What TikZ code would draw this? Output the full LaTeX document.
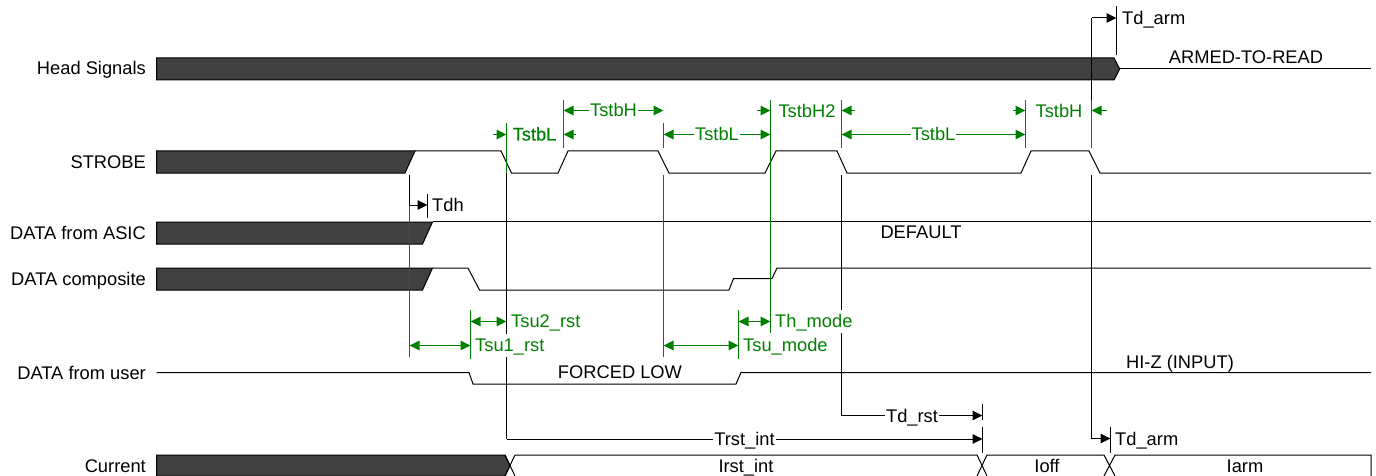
\documentclass[tikz,border=0pt]{standalone}
\usepackage{fontspec}
\setmainfont{Liberation Sans}
\newfontfamily\heavyfont[FakeBold=0.5]{Liberation Sans}
\usepackage{xcolor}
\usetikzlibrary{arrows.meta}
\definecolor{bardark}{HTML}{404040}
\definecolor{dimgreen}{HTML}{008000}

\begin{document}
\begin{tikzpicture}[
  x=1pt,y=-1pt,
  txt/.style={font=\fontsize{18.3}{20}\selectfont,inner xsep=1pt,inner ysep=0pt,
              text height=13pt,text depth=0pt},
  signame/.style={txt,anchor=east},
  dimlab/.style={txt,fill=white,inner ysep=5pt},
  sig/.style={line width=1pt,line join=miter},
  bar/.style={fill=bardark,draw=black,line width=1pt},
  dimline/.style={line width=1pt},
  dimg/.style={line width=1.4pt,draw=dimgreen,fill=dimgreen},
  one/.style={-{Triangle[length=10pt,width=9.5pt]}},
  both/.style={{Triangle[length=10pt,width=9.5pt]}-{Triangle[length=10pt,width=9.5pt]}}
]
\useasboundingbox (0,0) rectangle (1376,476);
% Signal names
\node[signame] (nhead) at (147,68.5) {Head Signals};
\node[signame] (nstrobe) at (147,161.5) {STROBE};
\node[signame] (nasic) at (147,232.5) {DATA from ASIC};
\node[signame] (ncomp) at (147,279) {DATA composite};
\node[signame] (nuser) at (147,372.5) {DATA from user};
\node[signame] (ncurr) at (147,466) {Current};
% Waveforms
\draw[bar] (156.5,58) -- (1114,58) -- (1119.7,69) -- (1114,80) -- (156.5,80) -- cycle;
\draw[sig] (1119.7,68.5) -- (1371,68.5);
\draw[bar] (156.5,151) -- (415,151) -- (405,173) -- (156.5,173) -- cycle;
\draw[sig] (415,151) -- (501,151) -- (511.5,173) -- (558,173) -- (568,151)
  -- (658,151) -- (669,173) -- (765,173) -- (776,151) -- (837,151) -- (847,173)
  -- (1021,173) -- (1031,151) -- (1089,151) -- (1100,173) -- (1371,173);
\draw[bar] (156.5,222) -- (432.5,222) -- (422.5,244) -- (156.5,244) -- cycle;
\draw[sig] (432.5,221.5) -- (1371,221.5);
\draw[bar] (156.5,268) -- (432.5,268) -- (422.5,290) -- (156.5,290) -- cycle;
\draw[sig] (432.5,268) -- (468,268) -- (479.5,290) -- (729,290) -- (733.5,278.5)
  -- (772,278.5) -- (777,268) -- (1371,268);
\draw[sig] (156.5,372.5) -- (469,372.5) -- (473,384) -- (736,384) -- (741,372.5) -- (1371,372.5);
\draw[bar] (156.5,455) -- (505,455) -- (510,465.5) -- (505,476) -- (156.5,476) -- cycle;
\draw[sig] (505,455) -- (515,476) (515,455) -- (505,476);
\draw[sig] (515,455) -- (977,455) -- (987,476) (977,476) -- (987,455) -- (1104,455) -- (1115,476)
  (1104,476) -- (1115,455) -- (1371,455) -- (1371,476);
% Edge markers
\coordinate (e410a) at (409.5,175);
\coordinate (e410b) at (409.5,205);
\coordinate (e410c) at (409.5,357);
\coordinate (e470a) at (470.5,310);
\coordinate (e470b) at (470.5,359);
\coordinate (e506a) at (506.5,123);
\coordinate (e506b) at (506.5,173);
\coordinate (e506c) at (506.5,439);
\coordinate (e563a) at (563.5,100);
\coordinate (e563b) at (563.5,148);
\coordinate (e663a) at (663.5,123);
\coordinate (e663b) at (663.5,148);
\coordinate (e663c) at (663.5,175);
\coordinate (e663d) at (663.5,357);
\coordinate (e738a) at (738.5,310);
\coordinate (e738b) at (738.5,359);
\coordinate (e770a) at (770.5,100);
\coordinate (e770b) at (770.5,333);
\coordinate (e842a) at (841.5,100);
\coordinate (e842b) at (841.5,148);
\coordinate (e842c) at (841.5,175);
\coordinate (e842d) at (841.5,415.5);
\coordinate (e1025a) at (1025.5,100);
\coordinate (e1025b) at (1025.5,148);
\coordinate (e1092a) at (1091.5,18);
\coordinate (e1092b) at (1091.5,100);
\coordinate (e1092c) at (1091.5,148);
\coordinate (e1092d) at (1091.5,175);
\coordinate (e1092e) at (1091.5,438.5);
\draw[dimline] (e410a) -- (e410b);
\draw[dimg] (e410b) -- (e410c);
\draw[dimg] (e470a) -- (e470b);
\draw[dimg] (e506a) -- (e506b);
\draw[dimline] (e506b) -- (e506c);
\draw[dimg] (e563a) -- (e563b);
\draw[dimg] (e663a) -- (e663b);
\draw[dimg] (e663c) -- (e663d);
\draw[dimg] (e738a) -- (e738b);
\draw[dimg] (e770a) -- (e770b);
\draw[dimg] (e842a) -- (e842b);
\draw[dimline] (e842c) -- (e842d);
\draw[dimg] (e1025a) -- (e1025b);
\draw[dimline] (e1092a) -- (e1092b);
\draw[dimg] (e1092b) -- (e1092c);
\draw[dimline] (e1092d) -- (e1092e);
% Ticks at arrow ends
\coordinate (tdha) at (427.5,194);
\coordinate (tdhb) at (427.5,218);
\coordinate (armta) at (1116.5,6);
\coordinate (armtb) at (1116.5,55);
\coordinate (armba) at (1110.5,427);
\coordinate (armbb) at (1110.5,453);
\coordinate (rsta) at (982.5,404);
\coordinate (rstb) at (982.5,420);
\coordinate (rstc) at (982.5,427);
\coordinate (rstd) at (982.5,453);
\draw[dimline] (tdha) -- (tdhb);
\draw[dimline] (armta) -- (armtb);
\draw[dimline] (armba) -- (armbb);
\draw[dimline] (rsta) -- (rstb);
\draw[dimline] (rstc) -- (rstd);
% Timing arrows, black
\draw[dimline,one] (e410b) -- (e410b -| tdha);
\draw[dimline,one] (e1092a) -- (e1092a -| armta);
\draw[dimline,one] (e1092e) -- (e1092e -| armba);
\draw[dimline,one] (e842d) -- node[dimlab] (ltdrst) {Td\_rst} (e842d -| rsta);
\draw[dimline,one] (e506c) -- node[dimlab] (ltrst) {Trst\_int} (e506c -| rsta);
% Timing arrows, green
\coordinate (hy) at (0,110.5);
\coordinate (ly) at (0,134.5);
\coordinate (qy) at (0,321.5);
\coordinate (ry) at (0,345.5);
\coordinate (s493) at (493,134.5);
\coordinate (s576) at (576,134.5);
\coordinate (s757) at (757,110.5);
\coordinate (s855) at (855,110.5);
\coordinate (s1013) at (1013,110.5);
\coordinate (s1107) at (1107,110.5);
\draw[dimg,one] (s493) -- (s493 -| e506a);
\draw[dimg,one] (s576) -- (s576 -| e563a);
\draw[dimg,one] (s757) -- (s757 -| e770a);
\draw[dimg,one] (s855) -- (s855 -| e842a);
\draw[dimg,one] (s1013) -- (s1013 -| e1025a);
\draw[dimg,one] (s1107) -- (s1107 -| e1092a);
\draw[dimg,both] (hy -| e563a) -- node[dimlab,text=dimgreen] (ltstbh) {TstbH} (hy -| e663a);
\draw[dimg,both] (ly -| e663a) -- node[dimlab,text=dimgreen] (ltstbl) {TstbL} (ly -| e770a);
\draw[dimg,both] (ly -| e842a) -- node[dimlab,text=dimgreen] (ltstblb) {TstbL} (ly -| e1025a);
\draw[dimg,both] (qy -| e470a) -- (qy -| e506a);
\draw[dimg,both] (ry -| e410b) -- (ry -| e470a);
\draw[dimg,both] (qy -| e738a) -- (qy -| e770a);
\draw[dimg,both] (ry -| e663c) -- (ry -| e738a);
% Free labels
\node[txt,anchor=west] (ltdh) at (431,204.5) {Tdh};
\node[txt,anchor=west] (larmt) at (1121,18) {Td\_arm};
\node[txt,anchor=west] (larmb) at (1114,438.5) {Td\_arm};
\node[txt,text=dimgreen] (lstrl) at (534.5,134) {\heavyfont TstbL};
\node[txt,text=dimgreen] (lstrh2) at (807,111) {TstbH2};
\node[txt,text=dimgreen] (lstrh) at (1059,111) {TstbH};
\node[dimlab,anchor=west,text=dimgreen] (lsu2) at (510,321) {Tsu2\_rst};
\node[dimlab,anchor=west,text=dimgreen] (lsu1) at (474,345) {Tsu1\_rst};
\node[dimlab,anchor=west,text=dimgreen] (lthm) at (774,321) {Th\_mode};
\node[dimlab,anchor=west,text=dimgreen] (lsum) at (742,345) {Tsu\_mode};
\node[txt] (larmed) at (1246,57.5) {ARMED-TO-READ};
\node[txt] (ldef) at (921,232) {DEFAULT};
\node[txt] (lforced) at (620,372) {FORCED LOW};
\node[txt] (lhiz) at (1180,362) {HI-Z (INPUT)};
\node[txt] (lirst) at (746,466) {Irst\_int};
\node[txt] (lioff) at (1047,466) {Ioff};
\node[txt] (liarm) at (1245,466) {Iarm};
\end{tikzpicture}
\end{document}
